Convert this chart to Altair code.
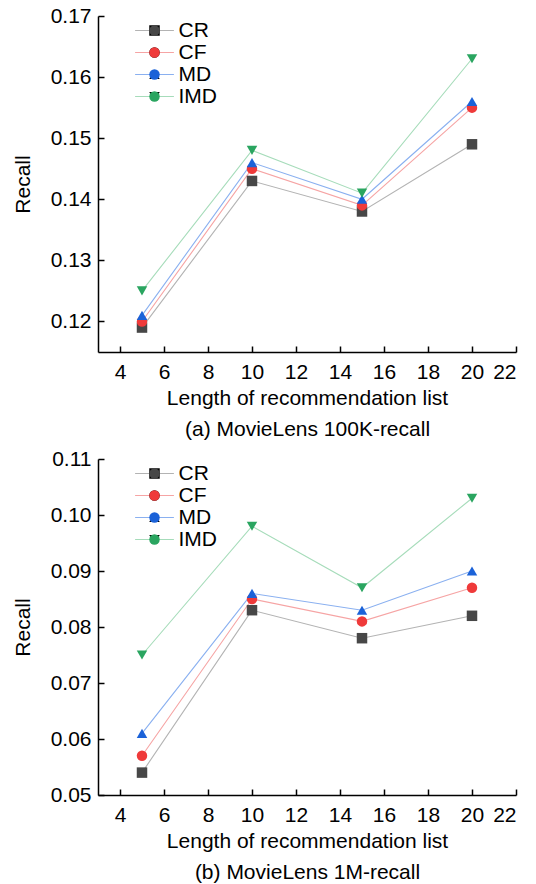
import altair as alt
import pandas as pd

# ---- data ----
lengths = [5, 10, 15, 20]
methods = ["CR", "CF", "MD", "IMD"]

k100_cr = [0.119, 0.143, 0.138, 0.149]
k100_cf = [0.120, 0.145, 0.139, 0.155]
k100_md = [0.121, 0.146, 0.140, 0.156]
k100_imd = [0.125, 0.148, 0.141, 0.163]

m1_cr = [0.054, 0.083, 0.078, 0.082]
m1_cf = [0.057, 0.085, 0.081, 0.087]
m1_md = [0.061, 0.086, 0.083, 0.090]
m1_imd = [0.075, 0.098, 0.087, 0.103]

x_ticks = [4, 6, 8, 10, 12, 14, 16, 18, 20, 22]
y_ticks_a = [0.12, 0.13, 0.14, 0.15, 0.16, 0.17]
y_ticks_b = [0.05, 0.06, 0.07, 0.08, 0.09, 0.10, 0.11]
x_title = "Length of recommendation list"
y_title = "Recall"
caption_a = "(a) MovieLens 100K-recall"
caption_b = "(b) MovieLens 1M-recall"

# ---- styles ----
shapes = ["square", "circle", "triangle-up", "triangle-down"]
marker_colors = ["#474747", "#ef3a3a", "#1b62d8", "#2aa560"]
line_colors = ["#b3b3b3", "#f6a4a4", "#8ab0f0", "#a6dcba"]
FONT = "Liberation Sans"
FS = 21
W, H = 418, 336
LEG_X, LEG_Y = 46, 4
MSIZE = 110


def to_frame(series_list):
    rows = []
    for m, vals in zip(methods, series_list):
        for L, v in zip(lengths, vals):
            rows.append({"length": L, "recall": v, "method": m, "method_line": m})
    return pd.DataFrame(rows)


def panel(df, ydom, yticks, caption):
    xs = alt.Scale(domain=[3, 22], nice=False, zero=False)
    ys = alt.Scale(domain=ydom, nice=False, zero=False)
    base = alt.Chart(df)

    line_legend = alt.Legend(
        title=None, orient="none", legendX=LEG_X, legendY=LEG_Y,
        symbolType="M-3.7,0L3.7,0", symbolSize=MSIZE, symbolStrokeWidth=1.2,
        labelOffset=13.5, rowPadding=0, padding=0,
        labelFont=FONT, labelFontSize=FS, labelColor="black", zindex=0,
    )
    marker_legend = alt.Legend(
        title=None, orient="none", legendX=LEG_X, legendY=LEG_Y,
        symbolSize=MSIZE, symbolStrokeWidth=0, symbolOpacity=1,
        labelOffset=13.5, rowPadding=0, padding=0,
        labelFont=FONT, labelFontSize=FS, labelColor="transparent", zindex=1,
    )

    lines = base.mark_line(strokeWidth=1.1).encode(
        x=alt.X("length:Q", scale=xs, axis=alt.Axis(
            values=x_ticks, ticks=False, tickSize=0, grid=False,
            labelPadding=9, title=[x_title, caption],
            titlePadding=5, titleLineHeight=31)),
        y=alt.Y("recall:Q", scale=ys, axis=alt.Axis(
            values=yticks, format=".2f", ticks=False, tickSize=0, grid=False,
            labelPadding=7, title=y_title, titlePadding=17)),
        stroke=alt.Stroke("method_line:N", sort=methods,
                          scale=alt.Scale(range=line_colors),
                          legend=line_legend),
    )

    points = base.mark_point(filled=True, size=MSIZE, opacity=1, strokeWidth=0).encode(
        x=alt.X("length:Q", scale=xs, axis=None),
        y=alt.Y("recall:Q", scale=ys, axis=None),
        fill=alt.Fill("method:N", sort=methods,
                      scale=alt.Scale(range=marker_colors),
                      legend=marker_legend),
        shape=alt.Shape("method:N", sort=methods,
                        scale=alt.Scale(range=shapes),
                        legend=marker_legend),
    )

    # inward-pointing ticks: axes on the opposite sides, shifted across the plot
    ticks = base.mark_point(opacity=0).encode(
        x=alt.X("length:Q", scale=xs, axis=alt.Axis(
            orient="top", offset=-H, values=x_ticks, labels=False,
            domain=False, grid=False, ticks=True, tickSize=6,
            tickWidth=1.5, tickColor="black", title=None)),
        y=alt.Y("recall:Q", scale=ys, axis=alt.Axis(
            orient="right", offset=-W, values=yticks, labels=False,
            domain=False, grid=False, ticks=True, tickSize=6,
            tickWidth=1.5, tickColor="black", title=None)),
    )

    return (
        alt.layer(lines, points, ticks)
        .resolve_axis(x="independent", y="independent")
        .properties(width=W, height=H)
    )


pa = panel(to_frame([k100_cr, k100_cf, k100_md, k100_imd]), [0.115, 0.17], y_ticks_a, caption_a)
pb = panel(to_frame([m1_cr, m1_cf, m1_md, m1_imd]), [0.05, 0.11], y_ticks_b, caption_b)

chart = (
    alt.vconcat(pa, pb, spacing=7)
    .resolve_scale(stroke="independent", fill="independent", shape="independent")
    .resolve_legend(stroke="independent", fill="independent", shape="independent")
    .properties(padding={"left": 11, "top": 4, "right": 0, "bottom": 0})
    .configure_view(stroke="transparent")
    .configure_axis(
        labelFont=FONT, titleFont=FONT, labelFontSize=FS, titleFontSize=FS,
        labelColor="black", titleColor="black", titleFontWeight="normal",
        domainColor="black", domainWidth=1.5, grid=False,
    )
    .configure_legend(labelFont=FONT, labelFontSize=FS)
)

chart.save("out.html", embed_options={"renderer": "svg", "actions": False})
